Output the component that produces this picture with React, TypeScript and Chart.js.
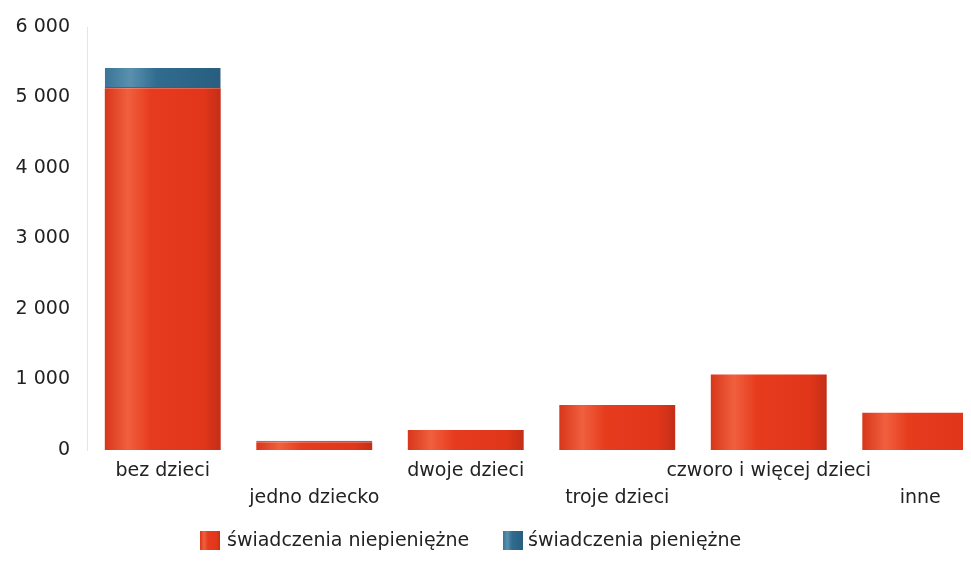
import React, { useEffect, useRef } from "react";
import { Chart, registerables } from "chart.js";

Chart.register(...registerables);

const categories = [
  "bez dzieci",
  "jedno dziecko",
  "dwoje dzieci",
  "troje dzieci",
  "czworo i więcej dzieci",
  "inne",
];
const seriesNames = ["świadczenia niepieniężne", "świadczenia pieniężne"];
const niepieniezne = [5130, 110, 285, 640, 1070, 530];
const pieniezne = [290, 20, 0, 0, 0, 0];
const yTicks = [0, 1000, 2000, 3000, 4000, 5000, 6000];

const RED = "#e43a1d";
const BLUE = "#2f6b8e";
const BAR_PCT = 0.765;
const FONT_FAMILY = "'DejaVu Sans', sans-serif";

const redStops: [number, string][] = [
  [0, "#d8361b"],
  [0.2, "#f0603e"],
  [0.4, "#e63b1d"],
  [0.85, "#e1361a"],
  [1, "#c42e18"],
];
const blueStops: [number, string][] = [
  [0, "#3a7497"],
  [0.22, "#5a90ae"],
  [0.45, "#306c8f"],
  [1, "#285e80"],
];

function formatThousands(v: number): string {
  return String(v).replace(/\B(?=(\d{3})+(?!\d))/g, " ");
}

function makeGradient(stops: [number, string][], solid: string) {
  return (ctx: any) => {
    const chart = ctx.chart;
    const xs = chart.scales && chart.scales.x;
    if (!xs || ctx.type !== "data" || !isFinite(xs.width) || xs.width <= 0) return solid;
    const cx = xs.getPixelForValue(ctx.dataIndex);
    const w = (xs.width / categories.length) * BAR_PCT;
    const g = chart.ctx.createLinearGradient(cx - w / 2, 0, cx + w / 2, 0);
    stops.forEach(([o, c]) => g.addColorStop(o, c));
    return g;
  };
}

// custom legend drawn below the axis labels
const legendLayout = [
  { boxX: 192, textX: 219 },
  { boxX: 495, textX: 520 },
];
const customLegend = {
  id: "customLegend",
  afterDraw(chart: any) {
    const ctx = chart.ctx as CanvasRenderingContext2D;
    const boxY = 523;
    const boxW = 20;
    const boxH = 19;
    ctx.save();
    ctx.font = `19px ${FONT_FAMILY}`;
    ctx.textBaseline = "middle";
    ctx.textAlign = "left";
    seriesNames.forEach((name, i) => {
      const { boxX, textX } = legendLayout[i];
      const stops = i === 0 ? redStops : blueStops;
      const g = ctx.createLinearGradient(boxX, 0, boxX + boxW, 0);
      stops.forEach(([o, c]) => g.addColorStop(o, c));
      ctx.fillStyle = g;
      ctx.fillRect(boxX, boxY, boxW, boxH);
      ctx.fillStyle = "#222";
      ctx.fillText(name, textX, boxY + boxH / 2 + 1);
    });
    ctx.restore();
  },
};

export default function App() {
  const ref = useRef<HTMLCanvasElement | null>(null);

  useEffect(() => {
    if (!ref.current) return;
    const font = { family: FONT_FAMILY, size: 19 };
    const chart = new Chart(ref.current, {
      type: "bar",
      data: {
        labels: categories.map((c, i) => (i % 2 === 1 ? ["", c] : c)) as any,
        datasets: [
          {
            label: seriesNames[0],
            data: niepieniezne,
            backgroundColor: makeGradient(redStops, RED),
            borderWidth: 0,
            barPercentage: BAR_PCT,
            categoryPercentage: 1,
          },
          {
            label: seriesNames[1],
            data: pieniezne,
            backgroundColor: makeGradient(blueStops, BLUE),
            borderColor: "#2a1a14",
            borderWidth: { bottom: 1, top: 0, left: 0, right: 0 } as any,
            borderSkipped: false,
            barPercentage: BAR_PCT,
            categoryPercentage: 1,
          },
        ],
      },
      plugins: [customLegend],
      options: {
        responsive: false,
        animation: false,
        devicePixelRatio: 1,
        layout: { padding: { left: 0, top: 19, right: 0, bottom: 44 } },
        plugins: {
          tooltip: { enabled: false },
          legend: { display: false },
        },
        scales: {
          x: {
            stacked: true,
            grid: { display: false, drawTicks: false },
            border: { display: false },
            afterFit: (axis: any) => {
              axis.height = 60;
              axis.paddingLeft = 0;
              axis.paddingRight = 0;
            },
            ticks: {
              font: { ...font, lineHeight: 1.4 },
              color: "#222",
              maxRotation: 0,
              autoSkip: false,
              padding: 8,
            },
          },
          y: {
            stacked: true,
            min: 0,
            max: 6000,
            afterBuildTicks: (axis: any) => {
              axis.ticks = yTicks.map((v) => ({ value: v }));
            },
            afterFit: (axis: any) => {
              axis.width = 79;
              axis.paddingTop = 0;
              axis.paddingBottom = 0;
            },
            grid: { display: false, drawTicks: false },
            border: { display: true, color: "#dfe7ee", width: 1 },
            ticks: {
              font,
              color: "#222",
              padding: 17,
              callback: (v: any) => formatThousands(Number(v)),
            },
          },
        },
      },
    });
    return () => chart.destroy();
  }, []);

  return (
    <div style={{ width: 963, height: 546, overflow: "hidden", position: "relative" }}>
      <canvas ref={ref} width={988} height={546} style={{ display: "block" }} />
    </div>
  );
}
